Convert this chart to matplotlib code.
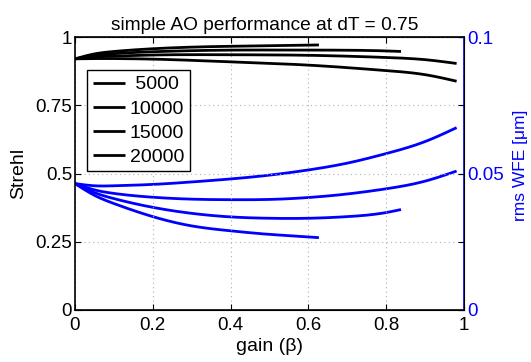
import numpy as np
import matplotlib
matplotlib.use("Agg")
import matplotlib.pyplot as plt

plt.rcParams['font.family'] = ['Liberation Sans', 'DejaVu Sans']

labels = [' 5000', '10000', '15000', '20000']

# Strehl curves (black, left axis)
strehl_gain = [
    [0, 0.05, 0.1, 0.2, 0.4, 0.6, 0.627],
    [0, 0.05, 0.1, 0.2, 0.4, 0.6, 0.8, 0.838],
    [0, 0.05, 0.1, 0.2, 0.4, 0.6, 0.8, 0.9, 0.981],
    [0, 0.05, 0.1, 0.2, 0.4, 0.6, 0.8, 0.9, 0.981],
]
strehl_vals = [
    [0.920, 0.938, 0.947, 0.957, 0.966, 0.970, 0.971],
    [0.920, 0.932, 0.939, 0.946, 0.952, 0.952, 0.949, 0.947],
    [0.920, 0.927, 0.930, 0.934, 0.935, 0.933, 0.925, 0.917, 0.903],
    [0.920, 0.921, 0.921, 0.919, 0.909, 0.897, 0.877, 0.862, 0.838],
]

# rms WFE curves (blue, right axis, microns)
wfe_gain = [
    [0, 0.05, 0.1, 0.2, 0.3, 0.4, 0.5, 0.6, 0.627],
    [0, 0.05, 0.1, 0.2, 0.3, 0.4, 0.5, 0.6, 0.7, 0.8, 0.838],
    [0, 0.05, 0.1, 0.2, 0.3, 0.4, 0.5, 0.6, 0.7, 0.8, 0.9, 0.981],
    [0, 0.05, 0.1, 0.2, 0.3, 0.4, 0.5, 0.6, 0.7, 0.8, 0.9, 0.981],
]
wfe_vals = [
    [0.0463, 0.0420, 0.0390, 0.0342, 0.0308, 0.0290, 0.0277, 0.0268, 0.0265],
    [0.0463, 0.0430, 0.0408, 0.0376, 0.0354, 0.0341, 0.0336, 0.0336, 0.0342, 0.0357, 0.0368],
    [0.0463, 0.0440, 0.0427, 0.0413, 0.0406, 0.0404, 0.0405, 0.0412, 0.0425, 0.0444, 0.0472, 0.0509],
    [0.0463, 0.0455, 0.0455, 0.0460, 0.0469, 0.0480, 0.0494, 0.0513, 0.0538, 0.0573, 0.0617, 0.0668],
]


def spline(x, y, n=300):
    """Natural cubic spline through the read points."""
    x = np.asarray(x, float); y = np.asarray(y, float)
    m = len(x)
    h = np.diff(x)
    A = np.zeros((m, m)); b = np.zeros(m)
    A[0, 0] = 1; A[-1, -1] = 1
    for i in range(1, m - 1):
        A[i, i - 1] = h[i - 1]
        A[i, i] = 2 * (h[i - 1] + h[i])
        A[i, i + 1] = h[i]
        b[i] = 3 * ((y[i + 1] - y[i]) / h[i] - (y[i] - y[i - 1]) / h[i - 1])
    c = np.linalg.solve(A, b)
    bb = (y[1:] - y[:-1]) / h - h * (2 * c[:-1] + c[1:]) / 3
    d = (c[1:] - c[:-1]) / (3 * h)
    xs = np.linspace(x[0], x[-1], n)
    idx = np.clip(np.searchsorted(x, xs) - 1, 0, m - 2)
    dx = xs - x[idx]
    ys = y[idx] + bb[idx] * dx + c[idx] * dx ** 2 + d[idx] * dx ** 3
    return xs, ys


fig = plt.figure(figsize=(5.31, 3.62), dpi=100)
ax = fig.add_axes([75/531, 1-310/362, 389/531, 273/362])
ax2 = ax.twinx()

handles = []
for g, v, lab in zip(strehl_gain, strehl_vals, labels):
    xs, ys = spline(g, v)
    h, = ax.plot(xs, ys, color='black', lw=2.0, label=lab, solid_capstyle='butt')
    handles.append(h)

for g, v in zip(wfe_gain, wfe_vals):
    xs, ys = spline(g, v)
    ax2.plot(xs, ys, color='#0000ff', lw=2.0, solid_capstyle='butt')

ax.set_xlim(0, 1)
ax.set_ylim(0, 1)
ax.set_xticks([0, 0.2, 0.4, 0.6, 0.8, 1])
ax.set_xticklabels(['0', '0.2', '0.4', '0.6', '0.8', '1'])
ax.set_yticks([0, 0.25, 0.5, 0.75, 1])
ax.set_yticklabels(['0', '0.25', '0.5', '0.75', '1'])
ax.grid(True, color='#b0b0b0', linestyle=(0, (1, 3)), lw=0.8)
ax.tick_params(direction='in', top=True, right=True, labelsize=13.5, length=4, pad=2)
ax.tick_params(axis='x', pad=5)
ax.set_xlabel('gain (β)', fontsize=14, labelpad=3)
ax.set_ylabel('Strehl', fontsize=14, labelpad=6)
ax.set_title('simple AO performance at dT = 0.75', fontsize=13.8, pad=5, x=0.487)

ax2.set_ylim(0, 0.1)
ax2.set_yticks([0, 0.05, 0.1])
ax2.set_yticklabels(['0', '0.05', '0.1'])
ax2.tick_params(direction='in', colors='#0000ff', labelsize=13.5, length=4, pad=2)
ax2.set_ylabel('rms WFE [μm]', fontsize=12.5, color='#0000ff')
ax2.yaxis.set_label_coords(1.126, 0.53)
ax2.spines['right'].set_color('#0000ff')
ax2.spines['right'].set_linewidth(1.2)
for s in ['left', 'top', 'bottom']:
    ax.spines[s].set_linewidth(1.2)
ax2.spines['left'].set_visible(False)

leg = ax.legend(handles=handles, loc='upper left', bbox_to_anchor=(0.031, 0.879),
                borderaxespad=0, fontsize=14, frameon=True, fancybox=False,
                edgecolor='black', framealpha=1, handlelength=1.65, labelspacing=0.33,
                handletextpad=0.25, borderpad=0.3)
leg.get_frame().set_linewidth(1.0)
leg.set_zorder(5)
ax.set_zorder(ax2.get_zorder()+1)
ax.patch.set_visible(False)

fig.savefig('out.png', dpi=100)
